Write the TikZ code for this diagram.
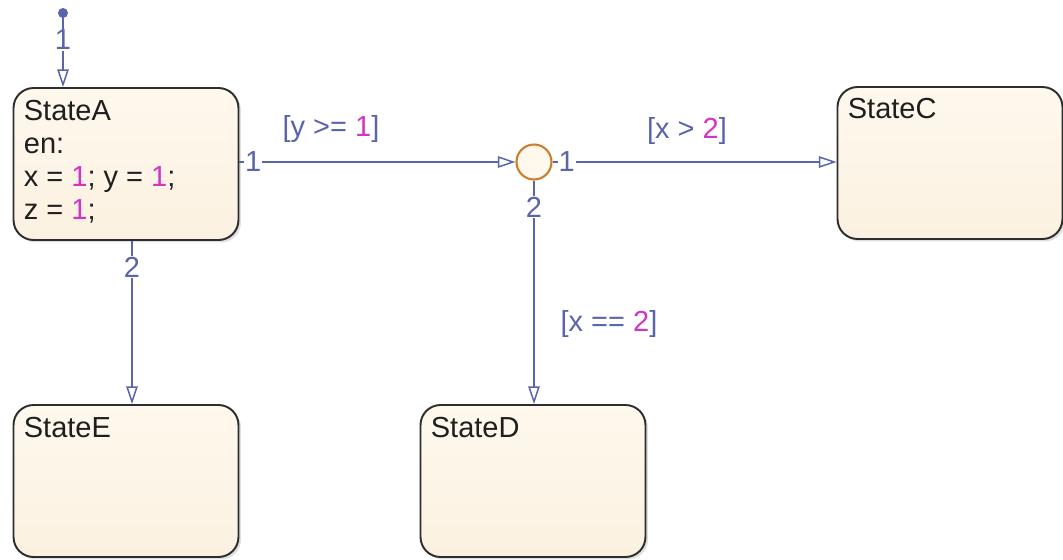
\documentclass[tikz,border=0pt]{standalone}
\usepackage{fontspec}
\setmainfont{Liberation Sans}
\usetikzlibrary{arrows.meta,shadows,positioning}
\definecolor{statetop}{RGB}{254,248,237}
\definecolor{statebot}{RGB}{251,241,224}
\definecolor{stateline}{RGB}{45,45,45}
\definecolor{transblue}{RGB}{90,100,170}
\definecolor{nummag}{RGB}{212,52,196}
\definecolor{juncorange}{RGB}{205,125,45}
\newcommand{\nm}[1]{\textcolor{nummag}{#1}}
\begin{document}
\begin{tikzpicture}[x=0.02cm, y=-0.02cm, font=\fontsize{16.5}{18.7}\selectfont,
    line join=round, >={Triangle[open, length=10pt, width=6.5pt]}]
  \tikzset{
    chartstate/.style={draw=stateline, line width=1.1pt, rounded corners=0.4cm,
      top color=statetop, bottom color=statebot, minimum width=4.5cm,
      minimum height=3.04cm, inner sep=0pt,
      drop shadow={shadow xshift=0.05cm, shadow yshift=-0.05cm, opacity=0.25}},
    title/.style={anchor=north west, inner sep=0pt, align=left, text=black!88},
    junction/.style={circle, draw=juncorange, line width=1.2pt, fill=statetop,
      minimum size=0.7cm, inner sep=0pt},
    trans/.style={draw=transblue, line width=0.85pt, ->},
    num/.style={fill=white, inner sep=0.5pt, text=transblue},
    guard/.style={text=transblue, inner sep=0pt}
  }
  \useasboundingbox (0,0) rectangle (1063,559);

  % Zustaende
  \node[chartstate] (A) at (126,164) {};
  \node[chartstate] (C) at (950,163) {};
  \node[chartstate] (E) at (126,481) {};
  \node[chartstate] (D) at (533,481) {};
  \node[junction] (J) at (534,162) {};

  % Beschriftungen der Zustaende
  \node[title] (tA) at ([xshift=0.22cm, yshift=-0.26cm]A.north west)
    {StateA\\en:\\x = \nm{1}; y = \nm{1};\\z = \nm{1};};
  \node[title] (tC) at ([xshift=0.22cm, yshift=-0.24cm]C.north west) {StateC};
  \node[title] (tE) at ([xshift=0.22cm, yshift=-0.26cm]E.north west) {StateE};
  \node[title] (tD) at ([xshift=0.22cm, yshift=-0.26cm]D.north west) {StateD};

  % Standarduebergang
  \coordinate (init) at (63,13);
  \fill[transblue] (init) circle (0.1cm);
  \draw[trans] (init) -- node[num, pos=0.36] (n0) {1} (init |- A.north);

  % Uebergaenge
  \draw[trans] (J -| A.east) -- node[num, pos=0.05] (n1) {1} (J.west);
  \draw[trans] (J.east) -- node[num, pos=0.05] (n2) {1} (J -| C.west);
  \draw[trans] (J.south) -- node[num, pos=0.12] (n3) {2} (J |- D.north);
  \draw[trans] ([xshift=0.12cm]A.south) -- node[num, pos=0.16] (n4) {2}
    ([xshift=0.12cm]E.north);

  % Bedingungen
  \node[guard] (gY) at (331,129) {[y >= \nm{1}]};
  \node[guard] (gX) at (687,131) {[x > \nm{2}]};
  \node[guard] (gD) at (609,324) {[x == \nm{2}]};
\end{tikzpicture}
\end{document}
